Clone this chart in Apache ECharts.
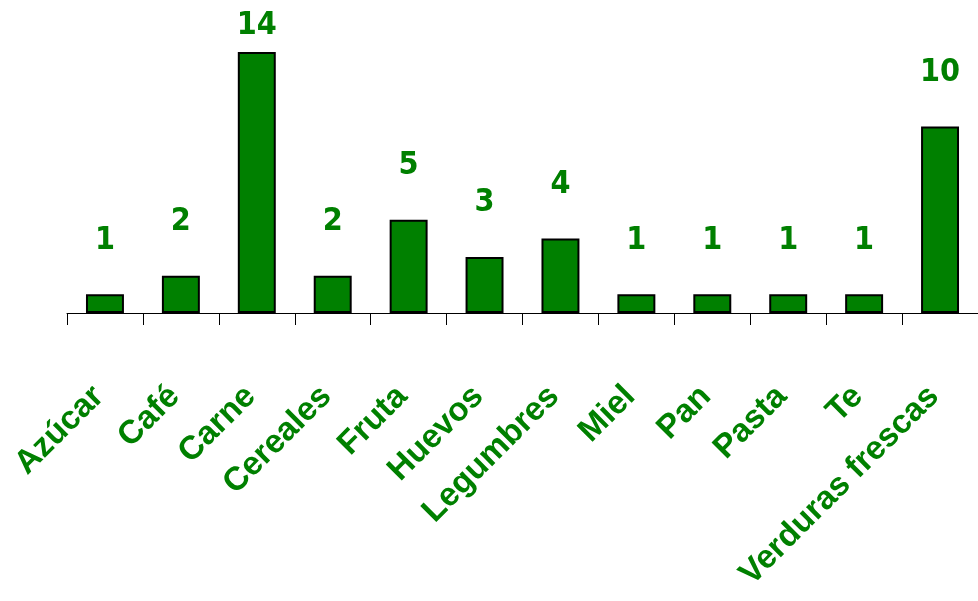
<!DOCTYPE html>
<html>
<head>
<meta charset="utf-8">
<script src="https://cdn.jsdelivr.net/npm/echarts@6/dist/echarts.min.js"></script>
<style>
html,body{margin:0;padding:0;background:#fff;}
#chart{width:978px;height:601px;}
</style>
</head>
<body>
<div id="chart"></div>
<script>
var categories = ['Azúcar','Café','Carne','Cereales','Fruta','Huevos','Legumbres','Miel','Pan','Pasta','Te','Verduras frescas'];
var values = [1,2,14,2,5,3,4,1,1,1,1,10];

var maxVal = Math.max.apply(null, values);
var chart = echarts.init(document.getElementById('chart'), null, {renderer:'canvas'});
var green = '#008000';
var option = {
  animation: false,
  backgroundColor: '#ffffff',
  grid: {left: 67, right: -7, top: 52, bottom: 288, containLabel: false},
  xAxis: {
    type: 'category',
    data: categories,
    axisLine: {lineStyle: {color: '#000', width: 1}},
    axisTick: {show: true, length: 12, inside: false, alignWithLabel: false, lineStyle: {color: '#000', width: 1}},
    axisLabel: {
      rotate: 45, interval: 0, margin: 72, padding: [0, 9, 0, 0],
      color: green, fontFamily: '"Liberation Sans", Arial, sans-serif', fontWeight: 'bold', fontSize: 33
    }
  },
  yAxis: {
    type: 'value', min: 0, max: maxVal, show: false,
    splitLine: {show: false}
  },
  series: [{
    type: 'bar',
    barWidth: '50%',
    data: values.map(function(v){
      return {value: v, label: {distance: v === maxVal ? 10 : 38}};
    }),
    itemStyle: {color: green, borderColor: '#000', borderWidth: 2},
    label: {
      show: true, position: 'top',
      color: green, fontFamily: '"Liberation Sans Narrow", "DejaVu Sans Condensed", sans-serif',
      fontWeight: 'bold', fontSize: 32
    }
  }]
};
chart.setOption(option);
</script>
</body>
</html>
